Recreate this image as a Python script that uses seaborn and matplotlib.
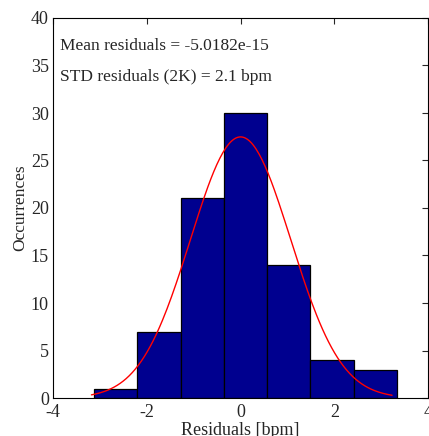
import numpy as np
import pandas as pd
import matplotlib
matplotlib.use("Agg")
import matplotlib.pyplot as plt
import seaborn as sns

# Data
bin_edges = [-3.12, -2.20, -1.28, -0.355, 0.567, 1.49, 2.41, 3.33]
counts = [1, 7, 21, 30, 14, 4, 3]
fit_mean = 0.0
fit_std = 1.07
curve_x = np.linspace(-3.18, 3.23, 200)

xticks = [-4, -2, 0, 2, 4]
yticks = [0, 5, 10, 15, 20, 25, 30, 35, 40]

sns.set_style("white")
plt.rcParams['font.family'] = ['Liberation Serif', 'DejaVu Serif']

centers = [(bin_edges[i] + bin_edges[i + 1]) / 2 for i in range(len(counts))]
df = pd.DataFrame({"x": centers, "w": counts})

n_total = sum(counts)
bw = (bin_edges[-1] - bin_edges[0]) / len(counts)
curve_y = n_total * bw / (fit_std * np.sqrt(2 * np.pi)) * np.exp(-0.5 * ((curve_x - fit_mean) / fit_std) ** 2)
cdf = pd.DataFrame({"x": curve_x, "y": curve_y})

fig = plt.figure(figsize=(4.29, 4.36), dpi=100)
ax = fig.add_axes([53 / 429, 1 - 398 / 436, 1 - 53 / 429 - 0.002, (398 - 18) / 436])

sns.histplot(data=df, x="x", weights="w", bins=bin_edges, ax=ax,
             color="#00008F", edgecolor="black", linewidth=0.9, alpha=1.0)
sns.lineplot(data=cdf, x="x", y="y", ax=ax, color="red", linewidth=1.0)

ax.set_xlim(-4, 4)
ax.set_ylim(0, 40)
ax.set_xticks(xticks)
ax.set_yticks(yticks)
ax.set_xticklabels([str(t) for t in xticks], fontsize=13)
ax.set_yticklabels([str(t) for t in yticks], fontsize=13)
ax.tick_params(axis="x", direction="in", top=True, length=4, width=0.8, pad=4)
ax.tick_params(axis="y", direction="in", right=True, length=4, width=0.8, pad=3)
for s in ax.spines.values():
    s.set_visible(True)
    s.set_color("black")
    s.set_linewidth(0.8)

ax.set_xlabel("Residuals [bpm]", fontsize=13, labelpad=1)
ax.set_ylabel("Occurrences", fontsize=12.5, labelpad=2)

ax.text(-3.85, 37.0, "Mean residuals = -5.0182e-15", fontsize=12.5, va="center", ha="left")
ax.text(-3.85, 33.8, "STD residuals (2K) = 2.1 bpm", fontsize=12.5, va="center", ha="left")

fig.savefig("out.png", dpi=100)
